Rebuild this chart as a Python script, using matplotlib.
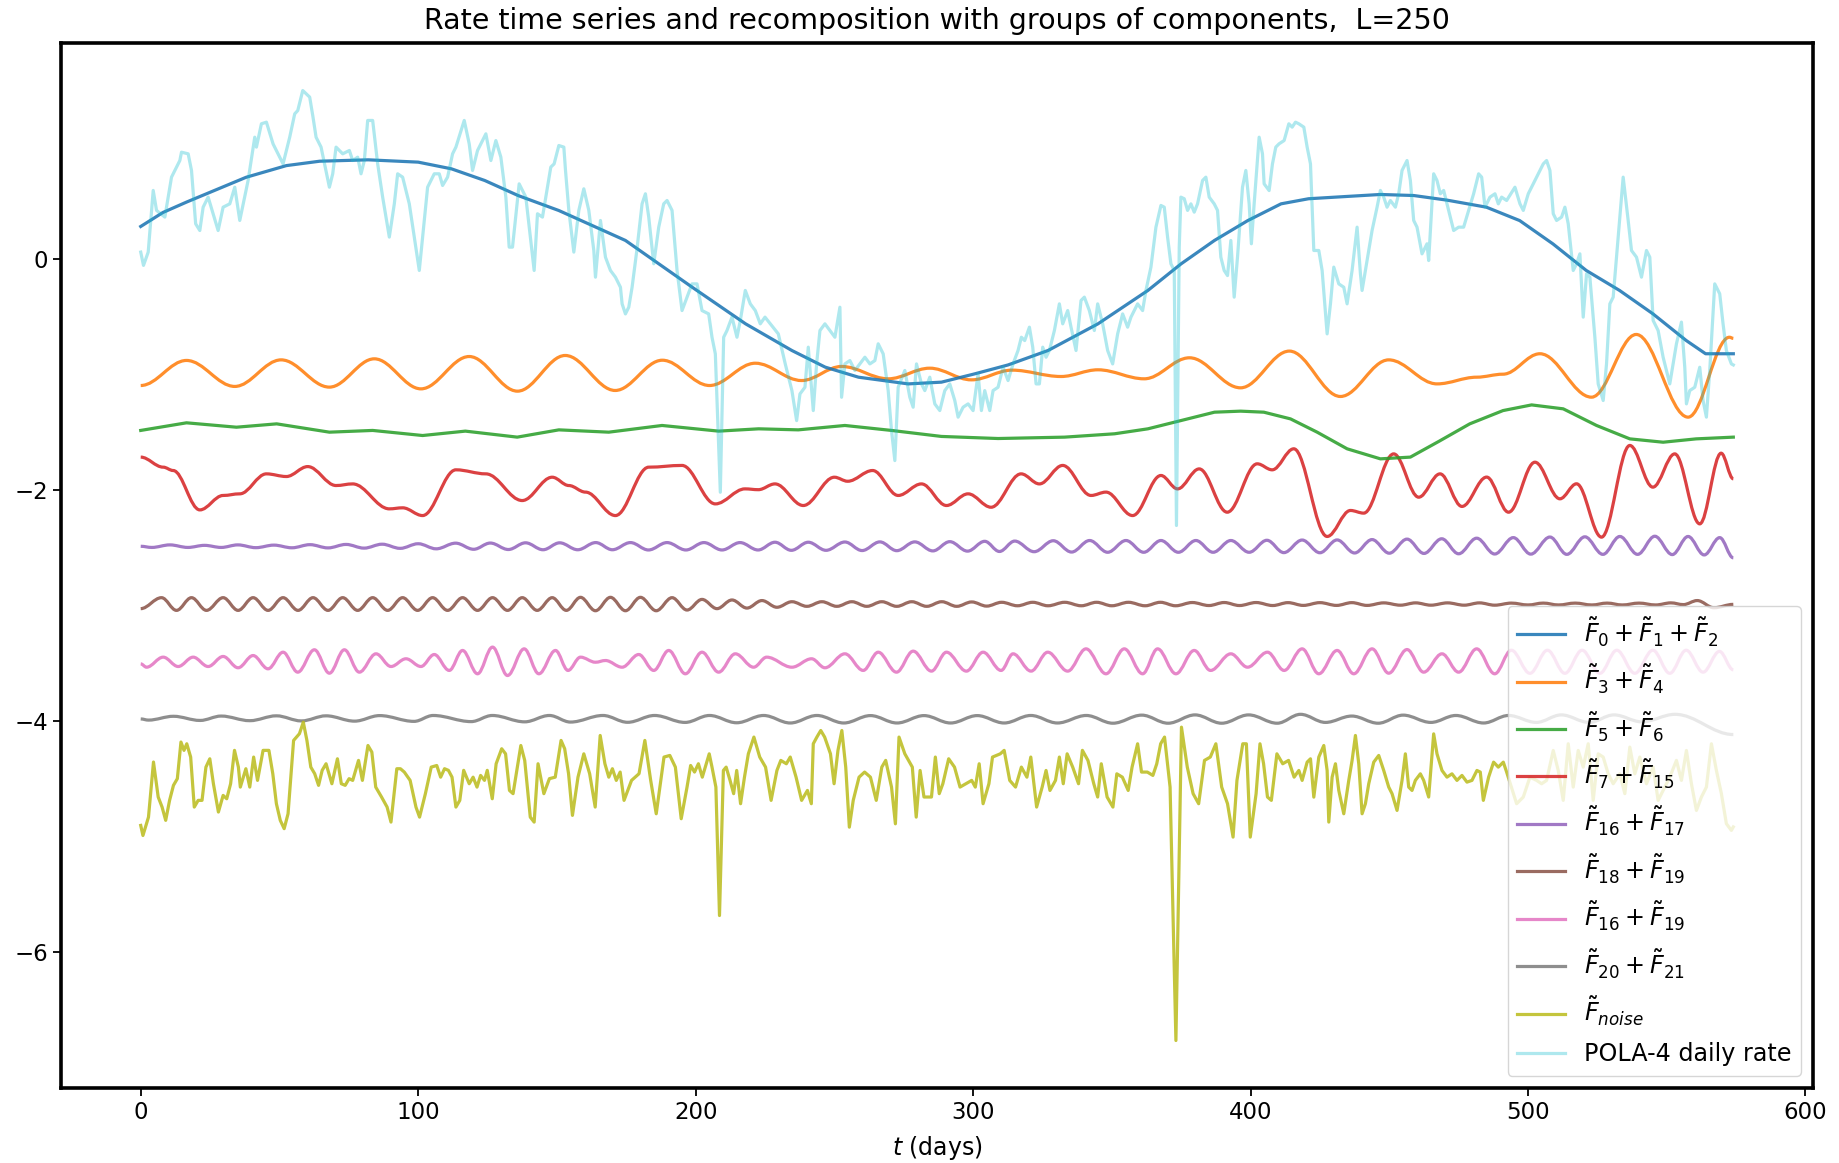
import matplotlib.pyplot as plt
from matplotlib.path import Path
from matplotlib.patches import PathPatch

plt.rcParams['font.size'] = 16
plt.rcParams['mathtext.fontset'] = 'dejavusans'

# (day, value) pairs
trend_012 = [(0, 0.279), (8, 0.40), (16.5, 0.49), (38, 0.705), (52.5, 0.806), (64.5, 0.844), (82, 0.856),
             (100, 0.836), (112, 0.778), (124, 0.677), (136, 0.547), (150.7, 0.417), (174.7, 0.158),
             (198.7, -0.246), (218, -0.564), (234.7, -0.795), (246.7, -0.939), (258.7, -1.026),
             (276.6, -1.084), (288.6, -1.069), (300.6, -0.997), (312.6, -0.92), (327, -0.795),
             (345, -0.564), (363, -0.275), (375, -0.044), (387, 0.158), (399, 0.33), (411, 0.475),
             (420.9, 0.519), (434.8, 0.539), (446.8, 0.556), (458.8, 0.547), (470.8, 0.507), (485, 0.446),
             (497, 0.33), (509, 0.128), (521, -0.102), (533, -0.275), (545, -0.477), (557, -0.708),
             (564, -0.823), (574, -0.823)]

comp_34 = [(0, -1.098), (16.5, -0.881), (33.9, -1.106), (50.6, -0.876), (68, -1.112), (84.2, -0.867),
           (101, -1.127), (118.4, -0.847), (135.8, -1.147), (153, -0.838), (171, -1.141), (188, -0.879),
           (205, -1.098), (221.5, -0.905), (238.2, -1.055), (252.6, -0.933), (269.4, -1.04), (284.4, -0.948),
           (299.4, -1.049), (314, -0.965), (331.7, -1.02), (345, -0.962), (361.7, -1.04), (378, -0.858),
           (396.4, -1.118), (414, -0.80), (432.4, -1.193), (449.8, -0.876), (467.2, -1.084), (481.5, -1.026),
           (491, -1.0), (504.3, -0.823), (522.9, -1.199), (539, -0.656), (557.7, -1.372), (572.6, -0.68),
           (574, -0.69)]

comp_56 = [(0, -1.487), (16.5, -1.421), (34.5, -1.459), (49, -1.43), (68, -1.502), (83.6, -1.487),
           (101.6, -1.531), (117, -1.493), (135.7, -1.545), (150.7, -1.482), (168.7, -1.502), (187.9, -1.444),
           (208.3, -1.493), (222.7, -1.473), (237, -1.482), (253.8, -1.444), (270.6, -1.487), (288.6, -1.539),
           (309, -1.557), (333, -1.545), (351, -1.516), (363, -1.473), (375, -1.401), (387, -1.329),
           (396.4, -1.32), (404.8, -1.329), (414.4, -1.387), (424, -1.502), (434.8, -1.646), (446.8, -1.733),
           (457.6, -1.718), (468, -1.58), (479, -1.43), (491, -1.315), (501.3, -1.266), (512.7, -1.30),
           (524.7, -1.444), (536.7, -1.56), (548.7, -1.589), (560.6, -1.56), (574, -1.545)]

comp_7_15 = [(0, -1.718), (8.1, -1.805), (11.7, -1.834), (21.3, -2.175), (29.7, -2.05), (35.7, -2.036),
             (45.3, -1.863), (52.5, -1.886), (60.2, -1.80), (70.4, -1.964), (76.4, -1.95), (89.6, -2.166),
             (94.4, -2.157), (101.6, -2.224), (113.6, -1.828), (124.4, -1.863), (137.5, -2.094),
             (148.3, -1.892), (154.3, -1.964), (160.3, -2.021), (171.1, -2.224), (183.1, -1.805),
             (195.1, -1.79), (207.1, -2.123), (217.8, -1.993), (222.6, -2.0), (228.6, -1.95), (238.8, -2.137),
             (250, -1.892), (254.8, -1.927), (263.8, -1.834), (273, -2.05), (281.4, -1.95), (290.4, -2.137),
             (298.2, -2.036), (306.5, -2.152), (317.3, -1.863), (323.9, -1.95), (332.3, -1.79),
             (342.5, -2.05), (347.9, -2.021), (357.5, -2.224), (367.7, -1.877), (373.7, -1.993),
             (381.5, -1.82), (391.6, -2.195), (402.4, -1.776), (407.8, -1.828), (415.6, -1.646),
             (427.6, -2.405), (436.0, -2.18), (440.8, -2.203), (451.6, -1.69), (460.6, -2.065),
             (468.3, -1.863), (476.2, -2.145), (485.1, -1.891), (493, -2.195), (502.5, -1.762),
             (511.5, -2.079), (517.5, -1.949), (526.5, -2.411), (536.7, -1.617), (545, -1.978),
             (552.9, -1.69), (561.9, -2.296), (569.6, -1.684), (574, -1.906)]

comp_16_17 = [(0, -2.490), (4, -2.500), (10.5, -2.478), (17, -2.500), (23, -2.482), (29, -2.500), (35, -2.478),
              (41.5, -2.502), (48, -2.480), (54.5, -2.503), (61, -2.476), (67.5, -2.504), (74, -2.474),
              (80.5, -2.506), (87, -2.472), (93.5, -2.508), (100, -2.468), (106.5, -2.512), (113.5, -2.463),
              (120, -2.516), (126, -2.462), (132.5, -2.518), (138.7, -2.460), (145, -2.520), (151, -2.460),
              (157.5, -2.520), (164, -2.458), (170, -2.520), (176.5, -2.458), (183, -2.522), (189.7, -2.458),
              (196.5, -2.522), (203, -2.458), (209.5, -2.522), (216, -2.458), (222.5, -2.522), (228.6, -2.455),
              (234.5, -2.525), (240.6, -2.455), (247, -2.525), (253.8, -2.453), (260, -2.527), (266.4, -2.452),
              (272.5, -2.528), (279, -2.452), (285.5, -2.530), (291.6, -2.450), (298, -2.532), (304.2, -2.447),
              (309.5, -2.535), (315, -2.445), (322, -2.537), (328.9, -2.442), (335.5, -2.540), (342, -2.440),
              (348.5, -2.542), (355.1, -2.440), (361.5, -2.542), (367.7, -2.440), (374, -2.542), (380.3, -2.440),
              (386.5, -2.542), (392.9, -2.440), (399.5, -2.542), (405.9, -2.438), (412, -2.545), (418.6, -2.436),
              (425, -2.546), (431.2, -2.435), (437.5, -2.548), (443.8, -2.432), (450, -2.550), (456.4, -2.428),
              (462.5, -2.552), (468.9, -2.425), (475, -2.555), (481.5, -2.420), (488, -2.557), (494.7, -2.415),
              (501, -2.558), (507.9, -2.410), (514, -2.560), (520.5, -2.408), (527, -2.560), (533.1, -2.405),
              (539.5, -2.560), (545.7, -2.403), (552, -2.562), (557.7, -2.405), (563.5, -2.565), (569.1, -2.415),
              (574, -2.590)]

comp_18_19 = [(0, -3.03), (7.5, -2.935), (12.9, -3.045), (18.3, -2.935), (23.7, -3.045), (29.7, -2.935),
              (35.1, -3.045), (40.5, -2.935), (45.9, -3.045), (51.3, -2.935), (56.7, -3.045), (62.1, -2.935),
              (67.5, -3.045), (72.8, -2.935), (78.2, -3.045), (83.6, -2.935), (89.0, -3.045), (94.4, -2.935),
              (99.8, -3.045), (105.2, -2.935), (110.6, -3.045), (116.0, -2.935), (121.4, -3.045), (126.8, -2.935),
              (132.2, -3.045), (137.5, -2.935), (142.9, -3.045), (148.3, -2.935), (153.4, -3.045), (158.5, -2.932),
              (163.9, -3.048), (169.3, -2.932), (174.7, -3.048), (180.1, -2.932), (185.8, -3.048), (191.5, -2.935),
              (196.9, -3.042), (202.3, -2.950), (207.7, -3.030), (213.1, -2.955), (218.5, -3.025), (223.9, -2.960),
              (229.3, -3.018), (234.7, -2.970), (240.1, -3.010), (245.5, -2.970), (250.9, -3.010), (256.3, -2.970),
              (261.7, -3.010), (267.1, -2.970), (272.5, -3.010), (277.9, -2.970), (283.3, -3.010), (288.7, -2.970),
              (294.1, -3.010), (299.5, -2.972), (304.9, -3.008), (310.3, -2.975), (316, -3.005), (321.5, -2.975),
              (327, -3.005), (333, -2.975), (339, -3.005), (344.5, -2.975), (350, -3.005), (356, -2.975),
              (362, -3.005), (367.5, -2.975), (373, -3.005), (379, -2.977), (385, -3.003), (390.5, -2.977),
              (396, -3.003), (402, -2.977), (408, -3.003), (413.5, -2.978), (419, -3.002), (425, -2.978),
              (431, -3.002), (436.5, -2.978), (442, -3.002), (448, -2.980), (454, -3.000), (459.5, -2.980),
              (465, -3.000), (471, -2.980), (477, -3.000), (482.5, -2.980), (488, -3.000), (494, -2.982),
              (500, -2.998), (505.5, -2.982), (511, -2.998), (517, -2.982), (523, -2.998), (528.5, -2.982),
              (534, -2.998), (540, -2.982), (546, -2.998), (551.5, -2.980), (556, -2.995), (561, -2.960),
              (567, -3.022), (574, -2.993)]

comp_16_19 = [(0, -3.508), (2.1, -3.537), (8.1, -3.450), (13.5, -3.531), (18.9, -3.450), (24.3, -3.531),
              (29.7, -3.444), (35.1, -3.542), (40.5, -3.436), (45.9, -3.551), (51.3, -3.407), (56.6, -3.580),
              (62.6, -3.386), (68.0, -3.589), (73.4, -3.386), (78.8, -3.580), (84.8, -3.421), (90.2, -3.531),
              (95.6, -3.464), (101.0, -3.531), (105.8, -3.427), (111.2, -3.565), (116.0, -3.392), (121.4, -3.594),
              (126.8, -3.363), (132.2, -3.609), (138.2, -3.378), (143.5, -3.594), (149.5, -3.392), (154.0, -3.565),
              (158.5, -3.450), (163.9, -3.494), (167.5, -3.479), (173.5, -3.537), (179.5, -3.427), (184.9, -3.565),
              (190.3, -3.392), (196.3, -3.594), (202.3, -3.407), (208.3, -3.580), (214.3, -3.421), (220.9, -3.537),
              (225.6, -3.450), (234.7, -3.537), (241.8, -3.464), (246.6, -3.542), (253.8, -3.421), (260.4, -3.565),
              (265.8, -3.407), (272.4, -3.580), (278.4, -3.398), (285.0, -3.571), (290.4, -3.407), (297.6, -3.571),
              (303.6, -3.407), (310.1, -3.565), (314.4, -3.421), (320.9, -3.571), (326.9, -3.407), (334.1, -3.571),
              (340.7, -3.378), (347.9, -3.594), (354.5, -3.378), (361.1, -3.594), (366.5, -3.378), (373.1, -3.594),
              (379.7, -3.392), (385.6, -3.565), (392.9, -3.421), (398.9, -3.537), (406.1, -3.407), (412.1, -3.565),
              (418.6, -3.378), (424.6, -3.594), (431.2, -3.392), (437.2, -3.594), (443.8, -3.378), (449.8, -3.589),
              (456.4, -3.384), (462.4, -3.580), (469.0, -3.421), (475.0, -3.580), (481.5, -3.378), (488.0, -3.594),
              (494.0, -3.390), (500.7, -3.590), (507.0, -3.390), (513.3, -3.590), (519.5, -3.390), (525.9, -3.590),
              (532.0, -3.390), (538.5, -3.590), (545.0, -3.390), (551.1, -3.590), (557.0, -3.390), (563.1, -3.580),
              (569.0, -3.400), (574, -3.560)]

comp_20_21 = [(0, -3.985), (2.8, -3.995), (11.8, -3.962), (21.4, -3.998), (29.0, -3.960), (39.3, -4.000),
              (48.9, -3.958), (57.9, -4.002), (66.8, -3.958), (77.1, -4.004), (86.1, -3.956), (98.5, -4.006),
              (105.4, -3.955), (119.1, -4.008), (126.7, -3.955), (138.4, -4.010), (147.3, -3.955), (154.9, -4.012),
              (166.6, -3.955), (175.5, -4.014), (185.2, -3.955), (196.2, -4.015), (205.0, -3.955), (214.8, -4.018),
              (224.5, -3.955), (234.1, -4.020), (243.7, -3.955), (253.4, -4.020), (263.0, -3.956), (272.6, -4.020),
              (282.3, -3.956), (291.9, -4.020), (301.5, -3.956), (311.2, -4.020), (320.8, -3.955), (330.4, -4.020),
              (340.8, -3.955), (350.4, -4.022), (360.8, -3.952), (370.3, -4.022), (380.0, -3.950), (389.6, -4.022),
              (399.3, -3.950), (409.6, -4.022), (418.0, -3.945), (427.0, -4.015), (436.5, -3.960), (446.0, -4.022),
              (455.0, -3.952), (465.0, -4.015), (474.0, -3.955), (484.0, -4.020), (493.0, -3.955), (503.0, -4.015),
              (512.0, -3.950), (522.0, -4.015), (531.0, -3.950), (541.0, -4.010), (553.0, -3.945), (574, -4.120)]

noise = [(0, -4.907), (0.8, -4.994), (2.8, -4.835), (4.6, -4.358), (6.3, -4.661), (7.7, -4.748), (9.0, -4.863),
         (10.4, -4.690), (11.8, -4.560), (13.2, -4.502), (14.5, -4.185), (15.6, -4.257), (16.6, -4.200),
         (18.0, -4.315), (19.3, -4.748), (20.7, -4.690), (22.1, -4.690), (23.5, -4.402), (24.9, -4.330),
         (26.2, -4.546), (28.0, -4.791), (29.7, -4.647), (31.0, -4.676), (32.4, -4.546), (33.8, -4.257),
         (35.2, -4.402), (35.9, -4.575), (37.9, -4.416), (39.3, -4.575), (40.7, -4.315), (42.1, -4.517),
         (44.1, -4.257), (46.2, -4.257), (47.6, -4.459), (48.9, -4.719), (50.3, -4.863), (51.7, -4.935),
         (53.1, -4.806), (55.1, -4.171), (57.2, -4.113), (58.6, -4.013), (59.9, -4.171), (61.3, -4.402),
         (62.7, -4.459), (64.1, -4.560), (65.4, -4.430), (66.8, -4.373), (68.9, -4.546), (70.9, -4.330),
         (72.3, -4.546), (73.7, -4.560), (75.1, -4.502), (76.4, -4.517), (78.5, -4.344), (79.9, -4.517),
         (81.9, -4.215), (83.3, -4.272), (84.7, -4.575), (86.8, -4.661), (88.8, -4.748), (90.2, -4.878),
         (92.3, -4.416), (93.6, -4.416), (95.0, -4.445), (97.1, -4.517), (99.2, -4.748), (100.5, -4.835),
         (102.6, -4.632), (104.7, -4.402), (106.7, -4.388), (108.1, -4.489), (109.5, -4.416), (110.9, -4.430),
         (112.2, -4.489), (113.6, -4.748), (115.0, -4.690), (116.4, -4.430), (118.4, -4.546), (119.8, -4.489),
         (121.2, -4.575), (122.5, -4.474), (123.9, -4.517), (124.9, -4.430), (126.7, -4.676), (128.1, -4.373),
         (130.1, -4.243), (131.5, -4.287), (132.9, -4.604), (134.2, -4.632), (137.0, -4.215), (138.4, -4.344),
         (140.4, -4.835), (141.8, -4.878), (143.2, -4.373), (145.3, -4.632), (147.3, -4.502), (149.4, -4.489),
         (151.5, -4.171), (152.8, -4.243), (154.2, -4.459), (155.6, -4.820), (157.6, -4.489), (159.7, -4.287),
         (161.8, -4.459), (163.8, -4.748), (165.6, -4.128), (167.3, -4.373), (168.7, -4.489), (170.0, -4.416),
         (171.4, -4.517), (172.8, -4.445), (174.2, -4.690), (176.9, -4.517), (179.6, -4.459), (181.7, -4.171),
         (183.8, -4.517), (185.8, -4.806), (188.6, -4.315), (190.7, -4.301), (192.7, -4.402), (194.8, -4.849),
         (196.9, -4.575), (198.2, -4.388), (199.6, -4.445), (201.0, -4.373), (202.4, -4.489), (204.9, -4.287),
         (205.9, -4.402), (207.3, -4.575), (208.6, -5.687), (210.0, -4.431), (211.0, -4.402), (212.4, -4.517),
         (213.7, -4.632), (214.8, -4.431), (216.2, -4.719), (217.6, -4.489), (219.0, -4.287), (221.0, -4.142),
         (223.1, -4.315), (225.2, -4.402), (227.2, -4.690), (229.3, -4.431), (230.7, -4.344), (232.7, -4.373),
         (234.1, -4.315), (236.2, -4.489), (238.2, -4.690), (240.3, -4.604), (241.7, -4.719), (242.4, -4.200),
         (243.7, -4.142), (245.1, -4.085), (246.5, -4.142), (248.6, -4.287), (249.9, -4.546), (251.3, -4.257),
         (252.7, -4.085), (254.1, -4.402), (255.4, -4.922), (256.8, -4.690), (258.9, -4.489), (260.9, -4.445),
         (263.0, -4.489), (265.1, -4.690), (267.1, -4.402), (268.5, -4.344), (270.6, -4.575), (272.0, -4.893),
         (273.3, -4.142), (275.4, -4.287), (278.1, -4.402), (279.5, -4.835), (280.9, -4.431), (282.3, -4.661),
         (285.0, -4.661), (286.4, -4.315), (287.8, -4.632), (289.1, -4.546), (291.2, -4.330), (293.3, -4.402),
         (295.3, -4.575), (297.4, -4.546), (299.5, -4.517), (300.8, -4.575), (302.2, -4.373), (303.6, -4.719),
         (305.7, -4.546), (307.0, -4.315), (309.8, -4.287), (311.2, -4.257), (313.2, -4.517), (315.3, -4.575),
         (317.4, -4.402), (319.4, -4.489), (320.8, -4.315), (322.9, -4.748), (324.9, -4.575), (326.3, -4.431),
         (327.7, -4.604), (329.7, -4.517), (331.1, -4.315), (332.5, -4.546), (333.9, -4.287), (335.9, -4.402),
         (338.0, -4.546), (339.4, -4.257), (341.4, -4.344), (343.5, -4.546), (344.9, -4.661), (346.2, -4.373),
         (348.3, -4.661), (350.4, -4.748), (351.8, -4.460), (353.8, -4.489), (355.9, -4.604), (357.3, -4.402),
         (359.3, -4.200), (360.7, -4.445), (362.8, -4.445), (364.8, -4.474), (366.2, -4.373), (367.6, -4.200),
         (369.0, -4.142), (371.0, -4.575), (373.1, -6.769), (375.1, -4.056), (377.2, -4.402), (379.3, -4.632),
         (381.3, -4.719), (383.4, -4.344), (385.5, -4.315), (387.5, -4.200), (389.6, -4.575), (391.7, -4.719),
         (393.7, -5.008), (395.1, -4.517), (397.2, -4.200), (398.5, -4.200), (399.9, -5.008), (402.0, -4.632),
         (403.4, -4.200), (404.7, -4.373), (406.1, -4.661), (407.5, -4.690), (409.5, -4.287), (411.6, -4.373),
         (413.7, -4.344), (415.7, -4.489), (417.4, -4.431), (418.6, -4.517), (420.4, -4.359), (421.6, -4.330),
         (422.8, -4.662), (424.6, -4.315), (426.4, -4.215), (427.6, -4.431), (428.2, -4.878), (429.4, -4.489),
         (430.6, -4.373), (431.8, -4.604), (433.6, -4.806), (435.4, -4.517), (436.6, -4.344), (437.8, -4.128),
         (439.0, -4.373), (440.2, -4.806), (441.4, -4.719), (442.6, -4.546), (444.4, -4.359), (446.2, -4.301),
         (448.0, -4.431), (449.8, -4.575), (451.0, -4.632), (452.8, -4.777), (454.6, -4.517), (455.8, -4.287),
         (457.0, -4.575), (458.2, -4.604), (459.4, -4.517), (461.2, -4.460), (462.4, -4.517), (464.2, -4.661),
         (466.0, -4.114), (467.2, -4.287), (469.0, -4.431), (470.8, -4.489), (472.6, -4.460), (474.4, -4.517),
         (476.2, -4.474), (478.0, -4.532), (479.8, -4.517), (481.6, -4.431), (482.8, -4.445), (483.9, -4.690),
         (485.8, -4.489), (487.6, -4.359), (489.3, -4.402), (491.1, -4.359), (492.3, -4.445), (495.9, -4.719),
         (498.3, -4.661), (500.7, -4.489), (503.1, -4.517), (504.9, -4.546), (506.7, -4.517), (509.1, -4.258),
         (510.9, -4.431), (512.7, -4.690), (514.5, -4.200), (516.3, -4.575), (518.1, -4.258), (519.9, -4.402),
         (521.7, -4.200), (523.5, -4.690), (525.3, -4.287), (527.1, -4.315), (528.9, -4.460), (530.7, -4.546),
         (533.1, -4.460), (534.9, -4.632), (536.7, -4.229), (538.5, -4.460), (540.3, -4.315), (542.7, -4.546),
         (545.1, -4.402), (546.9, -4.690), (548.7, -4.604), (551.1, -4.489), (553.5, -4.344), (555.3, -4.517),
         (557.1, -4.258), (558.9, -4.546), (560.7, -4.777), (562.5, -4.661), (564.3, -4.575), (566.1, -4.200),
         (567.9, -4.431), (569.7, -4.632), (571.5, -4.892), (573.3, -4.950), (574, -4.920)]

pola_rate = [(0, 0.057), (1, -0.058), (2.7, 0.057), (4.5, 0.591), (5.7, 0.418), (8.7, 0.360), (11.1, 0.706),
             (14.1, 0.850), (14.7, 0.922), (17.1, 0.908), (18.3, 0.764), (19.8, 0.302), (21.3, 0.244),
             (22.5, 0.446), (24.3, 0.533), (26.1, 0.388), (27.9, 0.244), (29.7, 0.446), (32.1, 0.475),
             (33.9, 0.619), (35.7, 0.331), (38.7, 0.677), (41.1, 1.052), (41.7, 0.966), (43.5, 1.168),
             (45.3, 1.182), (47.7, 0.994), (48.9, 0.937), (51.3, 0.821), (53.7, 1.052), (55.5, 1.254),
             (56.6, 1.283), (58.4, 1.456), (60.9, 1.399), (62.1, 1.225), (63.2, 1.052), (65.0, 0.966),
             (68.0, 0.619), (69.2, 0.735), (70.4, 0.966), (72.8, 0.908), (75.2, 0.937), (76.4, 0.850),
             (78.2, 0.879), (79.4, 0.735), (80.6, 0.850), (81.8, 1.197), (83.6, 1.197), (85.4, 0.821),
             (87.2, 0.533), (89.6, 0.187), (91.4, 0.475), (92.6, 0.735), (94.4, 0.706), (96.8, 0.475),
             (98.6, 0.187), (100.4, -0.102), (101.6, 0.187), (103.4, 0.619), (105.8, 0.735), (107.6, 0.735),
             (108.8, 0.634), (110.6, 0.706), (112.4, 0.908), (113.6, 0.966), (116.6, 1.197), (118.4, 0.994),
             (119.6, 0.764), (121.4, 0.937), (124.4, 1.081), (126.2, 0.850), (128.0, 1.023), (129.8, 0.879),
             (131.6, 0.533), (132.8, 0.100), (134.0, 0.100), (136.4, 0.648), (138.8, 0.533), (141.8, -0.102),
             (143.0, 0.389), (144.8, 0.360), (146.6, 0.619), (147.8, 0.793), (149.0, 0.821), (150.7, 0.980),
             (152.5, 0.966), (153.1, 0.764), (154.3, 0.418), (156.1, 0.057), (157.9, 0.418), (159.7, 0.605),
             (161.5, 0.418), (163.3, 0.071), (163.9, -0.160), (165.7, 0.331), (167.5, 0.013), (169.3, -0.102),
             (171.1, -0.160), (172.9, -0.247), (173.5, -0.391), (174.7, -0.478), (175.9, -0.420), (177.1, -0.247),
             (178.8, 0.071), (180.7, 0.475), (181.9, 0.562), (183.1, 0.360), (184.9, -0.044), (186.7, 0.273),
             (188.5, 0.475), (189.7, 0.504), (191.5, 0.418), (193.3, -0.102), (195.1, -0.449), (196.9, -0.333),
             (198.7, -0.218), (200.5, -0.218), (202.3, -0.449), (204.7, -0.478), (205.9, -0.680), (207.1, -0.824),
             (208.9, -2.022), (210.1, -0.680), (211.3, -0.622), (213.1, -0.506), (214.9, -0.680), (216.1, -0.535),
             (217.9, -0.275), (219.7, -0.391), (221.5, -0.449), (223.3, -0.564), (225.0, -0.506), (226.9, -0.564),
             (229.8, -0.651), (232.3, -0.911), (234.7, -1.142), (236.4, -1.402), (237.6, -1.171), (239.4, -1.113),
             (240.6, -0.766), (242.4, -1.315), (243.6, -0.911), (244.8, -0.622), (246.6, -0.564), (248.4, -0.622),
             (250.2, -0.680), (252.0, -0.420), (252.6, -1.200), (253.8, -0.911), (255.6, -0.882), (257.4, -0.968),
             (259.2, -0.911), (261.0, -0.853), (262.8, -0.911), (264.6, -0.882), (265.8, -0.737), (267.6, -0.824),
             (269.4, -1.142), (270.6, -1.488), (271.8, -1.748), (273.0, -1.113), (275.4, -0.968), (277.2, -1.200),
             (278.4, -1.286), (279.6, -0.911), (281.4, -1.084), (282.6, -1.142), (284.4, -1.026), (286.2, -1.257),
             (288.0, -1.315), (289.8, -1.142), (291.6, -1.084), (293.4, -1.228), (294.6, -1.372), (296.4, -1.286),
             (298.2, -1.257), (300.0, -1.315), (301.8, -0.997), (303.0, -1.315), (304.2, -1.142), (306.0, -1.315),
             (307.2, -1.142), (309.0, -1.113), (310.8, -0.940), (312.6, -1.055), (314.4, -0.911), (316.2, -0.795),
             (317.4, -0.680), (318.6, -0.709), (320.3, -0.593), (321.5, -0.766), (322.7, -1.084), (323.9, -1.084),
             (325.1, -0.766), (326.3, -0.853), (327.5, -0.795), (329.3, -0.622), (331.1, -0.391), (332.3, -0.564),
             (334.1, -0.449), (335.3, -0.593), (337.1, -0.795), (338.9, -0.362), (340.1, -0.333), (341.9, -0.449),
             (343.7, -0.622), (344.9, -0.391), (346.7, -0.564), (348.5, -0.795), (350.3, -0.911), (352.1, -0.651),
             (353.9, -0.478), (355.7, -0.593), (356.9, -0.506), (359.3, -0.391), (361.1, -0.449), (362.3, -0.275),
             (364.1, -0.073), (365.9, 0.273), (367.7, 0.461), (368.9, 0.446), (370.1, 0.187), (371.3, -0.044),
             (372.5, -0.102), (373.3, -2.310), (374.3, 0.100), (374.9, 0.533), (376.1, 0.519), (377.3, 0.418),
             (378.5, 0.475), (379.7, 0.403), (380.9, 0.475), (382.7, 0.677), (383.9, 0.706), (385.1, 0.533),
             (386.9, 0.475), (388.1, 0.418), (389.3, 0.013), (390.5, -0.102), (391.7, -0.146), (392.9, 0.158),
             (394.1, -0.333), (395.3, 0.013), (397.1, 0.619), (398.3, 0.764), (399.5, 0.475), (400.3, 0.129),
             (401.3, 0.475), (403.1, 1.052), (404.3, 0.908), (404.9, 0.648), (406.7, 0.590), (407.9, 0.821),
             (409.1, 0.966), (410.3, 0.995), (412.1, 1.023), (413.8, 1.168), (415.0, 1.139), (416.2, 1.182),
             (417.4, 1.168), (419.2, 1.139), (420.4, 0.966), (421.6, 0.821), (422.8, 0.071), (424.6, 0.071),
             (425.8, -0.102), (427.6, -0.651), (428.8, -0.391), (430.0, -0.073), (431.8, -0.218), (433.6, -0.247),
             (434.8, -0.391), (436.6, -0.102), (438.4, 0.273), (439.6, -0.131), (440.2, -0.275), (442.0, -0.016),
             (443.8, 0.244), (445.6, 0.446), (446.8, 0.591), (448.0, 0.533), (449.2, 0.446), (450.4, 0.504),
             (452.2, 0.446), (453.4, 0.562), (454.6, 0.764), (456.4, 0.850), (457.6, 0.677), (458.8, 0.331),
             (460.0, 0.273), (461.8, 0.042), (463.6, 0.129), (464.2, -0.016), (466.0, 0.735), (467.2, 0.677),
             (468.4, 0.562), (469.6, 0.591), (471.4, 0.418), (473.2, 0.244), (475.0, 0.273), (476.8, 0.273),
             (478.6, 0.418), (480.4, 0.562), (482.2, 0.735), (483.3, 0.706), (484.5, 0.446), (486.3, 0.533),
             (488.1, 0.562), (489.3, 0.475), (490.5, 0.533), (492.3, 0.504), (495.3, 0.619), (497.1, 0.475),
             (498.3, 0.418), (500.1, 0.562), (501.9, 0.648), (503.7, 0.735), (505.5, 0.821), (506.7, 0.850),
             (507.9, 0.764), (509.1, 0.389), (510.3, 0.331), (512.1, 0.360), (513.3, 0.446), (514.5, 0.302),
             (516.3, -0.102), (517.5, -0.044), (518.7, 0.042), (519.9, -0.506), (521.1, -0.131), (522.3, -0.160),
             (524.1, -0.680), (525.3, -1.084), (527.1, -1.228), (528.3, -0.911), (529.5, -0.391), (530.7, -0.333),
             (532.5, 0.187), (534.3, 0.706), (536.1, 0.331), (537.3, 0.071), (539.1, 0.013), (540.9, -0.160),
             (542.7, 0.071), (543.9, 0.013), (545.1, -0.535), (546.9, -0.622), (548.7, -0.853), (549.9, -0.968),
             (551.1, -1.084), (552.3, -0.911), (553.5, -0.737), (555.3, -0.549), (556.5, -0.940), (557.1, -1.257),
             (558.3, -1.142), (560.1, -1.113), (561.9, -0.940), (563.1, -1.228), (564.3, -1.372), (565.5, -0.968),
             (567.3, -0.218), (569.1, -0.304), (570.3, -0.564), (571.5, -0.795), (573.3, -0.911), (574, -0.92)]

labels = [r'$\tilde{F}_0+\tilde{F}_1+\tilde{F}_2$', r'$\tilde{F}_3+\tilde{F}_4$', r'$\tilde{F}_5+\tilde{F}_6$',
          r'$\tilde{F}_7+\tilde{F}_{15}$', r'$\tilde{F}_{16}+\tilde{F}_{17}$', r'$\tilde{F}_{18}+\tilde{F}_{19}$',
          r'$\tilde{F}_{16}+\tilde{F}_{19}$', r'$\tilde{F}_{20}+\tilde{F}_{21}$', r'$\tilde{F}_{noise}$']

# oscillating components: points are their turning points, drawn as a smooth curve
# (flat tangent at each listed point), the rest as plain polylines
wavy = [comp_34, comp_7_15, comp_16_17, comp_18_19, comp_16_19, comp_20_21]
series = [trend_012, comp_34, comp_56, comp_7_15, comp_16_17, comp_18_19, comp_16_19, comp_20_21, noise]

LW = 2.3
ALPHA = 0.88


def smooth_patch(pts, color):
    verts = [pts[0]]
    codes = [Path.MOVETO]
    for (t0, v0), (t1, v1) in zip(pts[:-1], pts[1:]):
        h = 0.36 * (t1 - t0)
        verts += [(t0 + h, v0), (t1 - h, v1), (t1, v1)]
        codes += [Path.CURVE4] * 3
    return PathPatch(Path(verts, codes), fill=False, edgecolor=color, lw=LW, alpha=ALPHA,
                     joinstyle='round', capstyle='butt')


fig, ax = plt.subplots(figsize=(18.4, 11.63), dpi=100)
fig.subplots_adjust(left=0.0332, right=0.9853, bottom=0.0645, top=0.963)

colors = plt.get_cmap('tab10').colors
for pts, label, c in zip(series, labels, colors):
    t, v = zip(*pts)
    if any(pts is w for w in wavy):
        ax.add_patch(smooth_patch(pts, c))
        ax.plot([], [], color=c, lw=LW, alpha=ALPHA, label=label)
    else:
        ax.plot(t, v, color=c, lw=LW, alpha=ALPHA, label=label)

t, v = zip(*pola_rate)
ax.plot(t, v, color='tab:cyan', alpha=0.35, lw=LW, label='POLA-4 daily rate')

ax.set_title('Rate time series and recomposition with groups of components,  L=250', fontsize=20.5, pad=10)
ax.set_xlabel(r'$t$ (days)', fontsize=17, labelpad=7)
ax.tick_params(length=6, width=1.3, labelsize=16.5)
for s in ax.spines.values():
    s.set_linewidth(2.6)
ax.legend(loc='lower right', fontsize=17.2, labelspacing=0.6)

fig.savefig('out.png')
